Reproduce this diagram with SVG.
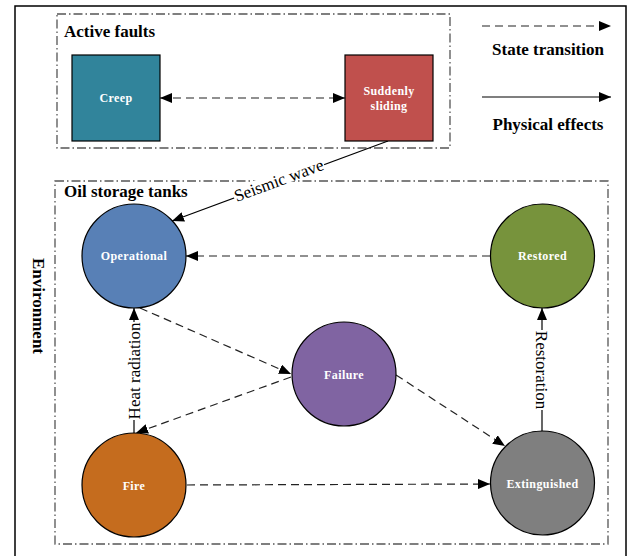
<svg xmlns="http://www.w3.org/2000/svg" width="629" height="556" viewBox="0 0 629 556">
<style>
.frame{fill:none;stroke:#000;stroke-width:1.5}
.grp{fill:none;stroke:#555;stroke-width:1.3;stroke-dasharray:9 3 1.5 3}
.node{stroke:#000;stroke-width:1.2}
.nl{font-family:"Liberation Serif","Times New Roman",serif;font-weight:bold;font-size:12px;fill:#fff;text-anchor:middle;letter-spacing:0.4px}
.title{font-family:"Liberation Serif","Times New Roman",serif;font-weight:bold;font-size:17px;fill:#000}
.lab{font-family:"Liberation Serif","Times New Roman",serif;font-size:17px;fill:#000;text-anchor:middle}
.dash{fill:none;stroke:#222;stroke-width:1.2;stroke-dasharray:8 5}
.solid{fill:none;stroke:#000;stroke-width:1.2}
</style>
<defs>
<marker id="ah" viewBox="0 0 12 10" refX="12" refY="5" markerWidth="12" markerHeight="10" markerUnits="userSpaceOnUse" orient="auto-start-reverse">
<path d="M0,0 L12,5 L0,10 Z" fill="#000"/>
</marker>
</defs>
<rect x="0" y="0" width="629" height="556" fill="#fff"/>
<rect class="frame" x="15" y="6" width="611" height="560"/>
<g id="active-faults">
<rect class="grp" x="57" y="14" width="393" height="134"/>
<text class="title" x="64" y="37">Active faults</text>
</g>
<g id="oil-storage-tanks">
<rect class="grp" x="55" y="181" width="553" height="363"/>
<text class="title" x="64" y="197">Oil storage tanks</text>
</g>
<text class="title" transform="translate(33,306) rotate(90)" text-anchor="middle">Environment</text>
<g id="legend">
<line class="dash" x1="482" y1="26" x2="611" y2="26" marker-end="url(#ah)"/>
<text class="title" x="548" y="55" text-anchor="middle">State transition</text>
<line class="solid" x1="482" y1="97" x2="611" y2="97" marker-end="url(#ah)"/>
<text class="title" x="548" y="130" text-anchor="middle">Physical effects</text>
</g>
<g id="connectors">
<line class="dash" x1="160" y1="98" x2="345" y2="98" marker-start="url(#ah)" marker-end="url(#ah)"/>
<line class="solid" x1="388" y1="141" x2="172" y2="221" marker-end="url(#ah)"/>
<g transform="translate(279,181) rotate(-20.3)">
<rect x="-48" y="-9" width="96" height="14" fill="#fff"/>
<text class="lab" x="0" y="5">Seismic wave</text>
</g>
<line class="dash" x1="490" y1="256" x2="186" y2="256" marker-end="url(#ah)"/>
<line class="dash" x1="140" y1="308" x2="291" y2="374" marker-end="url(#ah)"/>
<line class="dash" x1="291" y1="377" x2="136" y2="433" marker-end="url(#ah)"/>
<line class="dash" x1="396" y1="375" x2="505" y2="446" marker-end="url(#ah)"/>
<line class="dash" x1="187" y1="485" x2="490" y2="484" marker-end="url(#ah)"/>
<line class="solid" x1="134" y1="433" x2="134" y2="308" marker-end="url(#ah)"/>
<g transform="translate(134,371) rotate(-90)">
<rect x="-49" y="-8" width="98" height="16" fill="#fff"/>
<text class="lab" x="0" y="6">Heat radiation</text>
</g>
<line class="solid" x1="542" y1="432" x2="542" y2="308" marker-end="url(#ah)"/>
<g transform="translate(542,370) rotate(90)">
<rect x="-40" y="-8" width="80" height="16" fill="#fff"/>
<text class="lab" x="0" y="6">Restoration</text>
</g>
</g>
<g id="creep">
<rect class="node" x="72" y="55" width="88" height="86" fill="#31849B"/>
<text class="nl" x="116" y="102">Creep</text>
</g>
<g id="suddenly-sliding">
<rect class="node" x="345" y="55" width="88" height="86" fill="#C0504D"/>
<text class="nl" x="389" y="95">Suddenly</text>
<text class="nl" x="389" y="110">sliding</text>
</g>
<g id="operational">
<circle class="node" cx="134" cy="256" r="52" fill="#5880B6"/>
<text class="nl" x="134" y="260">Operational</text>
</g>
<g id="restored">
<circle class="node" cx="542.5" cy="256" r="52" fill="#77933C"/>
<text class="nl" x="542.5" y="260">Restored</text>
</g>
<g id="failure">
<circle class="node" cx="344" cy="374" r="52" fill="#8064A2"/>
<text class="nl" x="344" y="379">Failure</text>
</g>
<g id="fire">
<circle class="node" cx="134" cy="485" r="52" fill="#C56C1E"/>
<text class="nl" x="134" y="490">Fire</text>
</g>
<g id="extinguished">
<circle class="node" cx="542.5" cy="483" r="52" fill="#7F7F7F"/>
<text class="nl" x="542.5" y="488">Extinguished</text>
</g>
</svg>
